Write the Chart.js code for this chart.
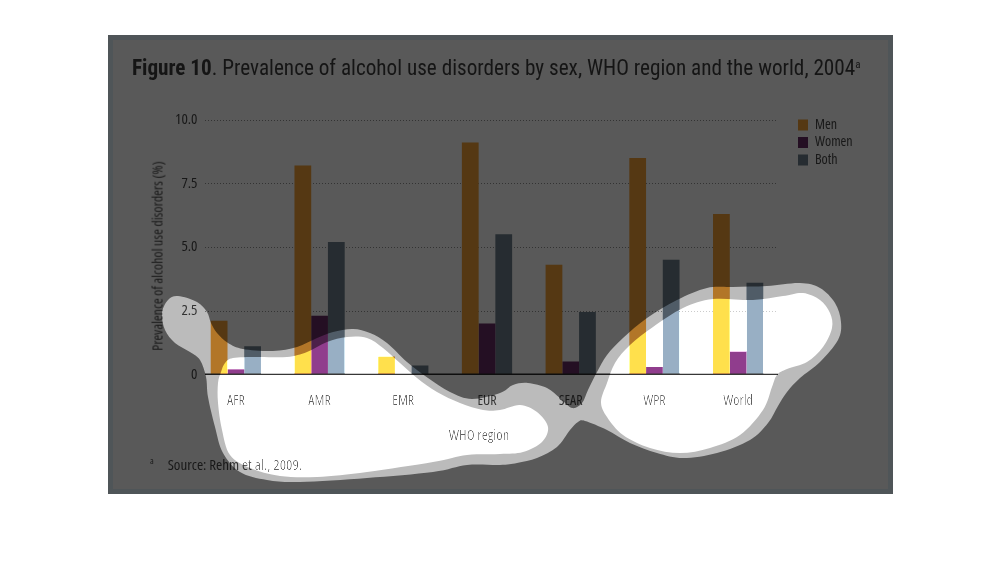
<!DOCTYPE html>
<html lang="en">
<head>
    <meta charset="utf-8">
    <title>Figure 10</title>
    <script src="https://cdn.jsdelivr.net/npm/chart.js@4"></script>
    <style>
        html, body {
            margin: 0;
            background: #fff;
            overflow: hidden;
        }
        body {
            width: 1002px;
            height: 588px;
            position: relative;
            font-family: "Open Sans", sans-serif;
            font-stretch: condensed;
            color: #181818;
        }
        .panel {
            position: absolute;
            left: 108px;
            top: 35px;
            width: 785px;
            height: 459px;
            box-sizing: border-box;
            background: #595959;
            border: 5px solid #4f5558;
        }
        #chart {
            position: absolute;
            left: 108px;
            top: 35px;
        }
        .txt {
            position: absolute;
            white-space: nowrap;
        }
        #fig-title {
            left: 132px;
            top: 55px;
            font-family: "Roboto Condensed", sans-serif;
            font-size: 21.2px;
            line-height: 26px;
            color: #151515;
        }
        #fig-title sup {
            font-size: 11px;
            line-height: 0;
            vertical-align: 7px;
        }
        #y-title {
            left: 157px;
            top: 256px;
            font-size: 14px;
            transform: translate(-50%, -50%) rotate(-90deg);
        }
        #x-title {
            left: 479px;
            top: 425px;
            font-size: 14.5px;
            transform: translateX(-50%);
        }
        #source {
            left: 150px;
            top: 454px;
            font-size: 15px;
        }
        #source sup {
            font-size: 9px;
            line-height: 0;
            margin-right: 14px;
        }
        .mask {
            position: absolute;
            left: 0;
            top: 0;
            width: 1002px;
            height: 588px;
        }
        #mask-halo { backdrop-filter: brightness(2.1); }
        #mask-clear { backdrop-filter: brightness(1.9); }
    </style>
</head>
<body>
    <div class="panel"></div>
    <canvas id="chart" width="785" height="459"></canvas>
    <div class="txt" id="fig-title"><b>Figure 10</b>. Prevalence of alcohol use disorders by sex, WHO region and the world, 2004<sup>a</sup></div>
    <div class="txt" id="y-title">Prevalence of alcohol use disorders (%)</div>
    <div class="txt" id="x-title">WHO region</div>
    <div class="txt" id="source"><sup>a</sup>Source: Rehm et al., 2009.</div>
    <div class="mask" id="mask-halo"></div>
    <div class="mask" id="mask-clear"></div>

    <script>
        const categories = ["AFR", "AMR", "EMR", "EUR", "SEAR", "WPR", "World"];
        const menValues = [2.1, 8.2, 0.7, 9.1, 4.3, 8.5, 6.3];
        const womenValues = [0.2, 2.3, 0, 2.0, 0.5, 0.3, 0.9];
        const bothValues = [1.1, 5.2, 0.35, 5.5, 2.45, 4.5, 3.6];
        const yTickLabels = ["0", "2.5", "5.0", "7.5", "10.0"];

        // outline of the grey halo and of the two clear shapes, in page pixels
        const haloOutline = [[178,296],[197,302],[207,312],[211,323],[217,333],[228,343],[243,349],[273,351],[297,347],[317,338],[333,332],[353,329],[370,333],[387,343],[407,362],[428,378],[450,392],[472,399],[500,393],[513,385],[528,383],[547,388],[560,398],[572,408],[582,403],[588,390],[597,372],[607,355],[623,338],[647,318],[677,300],[707,288],[733,287],[767,286],[800,283],[820,288],[835,303],[841,322],[838,340],[820,362],[800,378],[787,392],[778,406],[768,423],[750,440],[717,453],[683,458],[657,453],[630,443],[607,430],[585,421],[578,422],[570,430],[557,447],[537,458],[517,463],[500,465],[467,465],[433,472],[367,478],[300,482],[267,480],[240,472],[223,453],[215,427],[208,397],[206,377],[200,360],[190,352],[175,343],[165,330],[162,313],[168,300]];
        const clearLeft = [[221,372],[225,363],[233,358],[257,357],[287,357],[307,352],[327,342],[347,337],[367,338],[383,348],[400,363],[417,378],[437,392],[460,403],[483,410],[500,410],[520,405],[537,412],[548,427],[542,442],[523,452],[500,454],[467,455],[433,462],[367,472],[317,477],[280,476],[250,468],[230,455],[222,430],[218,403],[218,383]];
        const clearRight = [[601,402],[607,383],[615,363],[630,345],[653,327],[683,308],[713,299],[753,300],[783,296],[803,293],[820,300],[830,313],[832,328],[823,347],[807,362],[787,369],[777,375],[772,387],[763,410],[740,435],[710,448],[680,453],[650,448],[623,435],[607,417]];

        // closed catmull-rom curve as an svg path
        function smoothPath(pts) {
            const n = pts.length;
            let d = `M${pts[0][0]} ${pts[0][1]}`;
            for (let i = 0; i < n; i++) {
                const p0 = pts[(i - 1 + n) % n], p1 = pts[i], p2 = pts[(i + 1) % n], p3 = pts[(i + 2) % n];
                const c1x = p1[0] + (p2[0] - p0[0]) / 6, c1y = p1[1] + (p2[1] - p0[1]) / 6;
                const c2x = p2[0] - (p3[0] - p1[0]) / 6, c2y = p2[1] - (p3[1] - p1[1]) / 6;
                d += `C${c1x} ${c1y} ${c2x} ${c2y} ${p2[0]} ${p2[1]}`;
            }
            return d + "Z";
        }

        document.getElementById("mask-halo").style.clipPath = `path("${smoothPath(haloOutline)}")`;
        document.getElementById("mask-clear").style.clipPath = `path("${smoothPath(clearLeft)}${smoothPath(clearRight)}")`;

        // chart.js only passes weight through to the font string, so condensed goes there
        const tickFont = { family: '"Open Sans", sans-serif', weight: "condensed", size: 14 };
        const lineLeft = 97, lineRight = 670;   // rules stop short of the category band

        const axisLines = {
            id: "axisLines",
            beforeDatasetsDraw(chart) {
                const ctx = chart.ctx, y = chart.scales.y;
                ctx.save();
                ctx.strokeStyle = "#333";
                ctx.lineWidth = 1;
                ctx.setLineDash([1, 2]);
                [2.5, 5, 7.5, 10].forEach(v => {
                    const py = Math.round(y.getPixelForValue(v)) + 0.5;
                    ctx.beginPath();
                    ctx.moveTo(lineLeft, py);
                    ctx.lineTo(lineRight, py);
                    ctx.stroke();
                });
                ctx.restore();
            },
            afterDatasetsDraw(chart) {
                const ctx = chart.ctx, py = chart.scales.y.getPixelForValue(0);
                ctx.save();
                ctx.strokeStyle = "#0e0e0e";
                ctx.lineWidth = 1.5;
                ctx.beginPath();
                ctx.moveTo(lineLeft, py);
                ctx.lineTo(lineRight, py);
                ctx.stroke();
                ctx.restore();
            },
            afterLayout(chart) {
                // legend sits beside the plot, clear of the category band
                const lg = chart.legend;
                lg.left = 686.5;
                lg.top = 79.5;
                lg.right = 780;
                lg.bottom = 150;
            }
        };

        new Chart(document.getElementById("chart"), {
            type: "bar",
            plugins: [axisLines],
            data: {
                labels: categories,
                datasets: [
                    { label: "Men", data: menValues, backgroundColor: "#553813" },
                    { label: "Women", data: womenValues, backgroundColor: "#240f23" },
                    { label: "Both", data: bothValues, backgroundColor: "#262c31" }
                ]
            },
            options: {
                responsive: false,
                animation: false,
                layout: { padding: { left: 40, right: 113, top: 84.7, bottom: 79.7 } },
                datasets: { bar: { categoryPercentage: 0.6, barPercentage: 1 } },
                scales: {
                    x: {
                        grid: { display: false },
                        border: { display: false },
                        afterFit: s => { s.height = 40; },
                        ticks: {
                            color: "#181818",
                            padding: 10,
                            maxRotation: 0,
                            font: tickFont
                        }
                    },
                    y: {
                        min: 0,
                        max: 10,
                        grid: { display: false },
                        border: { display: false },
                        afterFit: s => { s.width = 46; },
                        ticks: {
                            stepSize: 2.5,
                            color: "#181818",
                            // mirror turns off the label clip, so labels may pass the scale edge
                            mirror: true,
                            crossAlign: "far",
                            padding: -19,
                            callback: (v, i) => yTickLabels[i],
                            font: { ...tickFont, size: 15 }
                        }
                    }
                },
                plugins: {
                    tooltip: { enabled: false },
                    legend: {
                        position: "chartArea",
                        align: "start",
                        labels: {
                            boxWidth: 10,
                            boxHeight: 11,
                            padding: 3.5,
                            color: "#181818",
                            font: tickFont
                        }
                    }
                }
            }
        });
    </script>
</body>
</html>
